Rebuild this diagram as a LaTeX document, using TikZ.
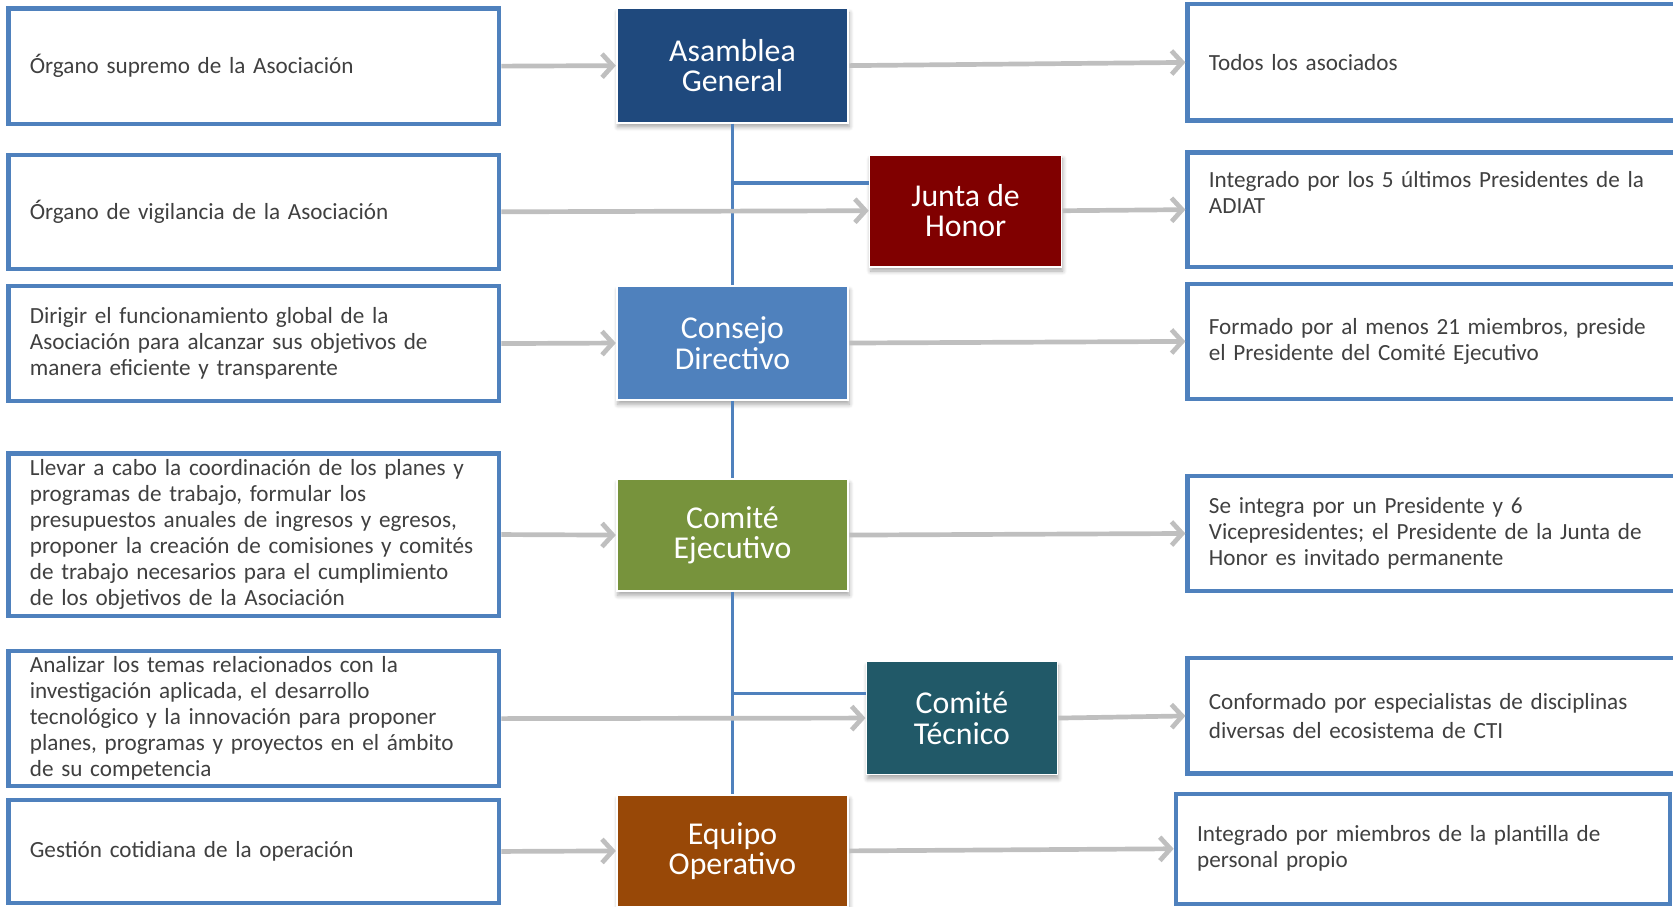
\documentclass[tikz,border=0pt]{standalone}
\usepackage{fontspec}
\setmainfont{Carlito}
\usepackage{tikz}
\usetikzlibrary{arrows.meta}
\usetikzlibrary{shadows.blur}
\usetikzlibrary{calc}
\definecolor{frameColor}{HTML}{4F81BD}
\definecolor{arrowColor}{HTML}{BFBFBF}
\definecolor{textColor}{HTML}{404040}
\definecolor{asambleaColor}{HTML}{1F497D}
\definecolor{juntaColor}{HTML}{800000}
\definecolor{consejoColor}{HTML}{4F81BD}
\definecolor{comiteColor}{HTML}{77933C}
\definecolor{tecnicoColor}{HTML}{215968}
\definecolor{equipoColor}{HTML}{984807}
\tikzset{
	descBox/.style={draw=frameColor, line width=2pt, fill=white, text=textColor, align=left, inner xsep=10pt, inner ysep=0pt, font=\fontsize{10.85}{12.15}\selectfont},
	leftBox/.style={descBox, minimum width=230pt, text width=210pt},
	rightBox/.style={descBox, minimum width=243.5pt, text width=223.5pt},
	organBox/.style={draw=white, line width=0.8pt, text=white, align=center, minimum width=108.5pt, minimum height=53.5pt, font=\fontsize{14.9}{14.3}\selectfont, blur shadow={shadow xshift=0.5pt, shadow yshift=-2pt, shadow blur steps=6, shadow blur radius=2pt, shadow opacity=35}},
	flowArrow/.style={draw=arrowColor, line width=2.2pt, -{Straight Barb[length=5pt,width=11pt]}},
	treeLine/.style={draw=frameColor, line width=1.5pt}
}

\begin{document}
\begin{tikzpicture}[x=0.5pt, y=-0.5pt]
\useasboundingbox (0,0) rectangle (1568,850);
\clip (0,0) rectangle (1568,850);
% descripciones (izquierda)
\node[leftBox, minimum height=54pt] (l1) at (238,62) {Órgano supremo de la Asociación};
\node[leftBox, minimum height=53.5pt] (l2) at (238,198.5) {Órgano de vigilancia de la Asociación};
\node[leftBox, minimum height=54pt] (l3) at (238,322) {Dirigir el funcionamiento global de la\\Asociación para alcanzar sus objetivos de\\manera eficiente y transparente};
\node[leftBox, minimum height=76pt] (l4) at (238,501) {Llevar a cabo la coordinación de los planes y\\programas de trabajo, formular los\\presupuestos anuales de ingresos y egresos,\\proponer la creación de comisiones y comités\\de trabajo necesarios para el cumplimiento\\de los objetivos de la Asociación};
\node[leftBox, minimum height=63.5pt] (l5) at (238,673.5) {Analizar los temas relacionados con la\\investigación aplicada, el desarrollo\\tecnológico y la innovación para proponer\\planes, programas y proyectos en el ámbito\\de su competencia};
\node[leftBox, minimum height=48pt] (l6) at (238,798) {Gestión cotidiana de la operación};
% organos
\node[organBox, fill=asambleaColor] (asamblea) at (686.5,61.5) {Asamblea\\General};
\node[organBox, fill=consejoColor] (consejo) at (686.5,321.5) {Consejo\\Directivo};
\node[organBox, fill=comiteColor, minimum height=52.5pt] (comite) at (686.5,501.5) {Comité\\Ejecutivo};
\node[organBox, fill=equipoColor, minimum height=52.5pt] (equipo) at (686.5,797.5) {Equipo\\Operativo};
\node[organBox, fill=juntaColor, minimum width=90pt, minimum height=52.5pt] (junta) at (905,197.5) {Junta de\\Honor};
\node[organBox, fill=tecnicoColor, minimum width=89.5pt, minimum height=53pt] (tecnico) at (901.5,673) {Comité\\Técnico};
% integracion (derecha)
\node[rightBox, minimum height=54.5pt] (r1) at (1356.5,58.5) {Todos los asociados};
\node[rightBox, minimum height=53.5pt] (r2) at (1356.5,196.5) {Integrado por los 5 últimos Presidentes de la\\ADIAT\\\strut};
\node[rightBox, minimum height=54pt] (r3) at (1356.5,320) {Formado por al menos 21 miembros, preside\\el Presidente del Comité Ejecutivo};
\node[rightBox, minimum height=54pt] (r4) at (1356.5,500) {Se integra por un Presidente y 6\\Vicepresidentes; el Presidente de la Junta de\\Honor es invitado permanente};
\node[rightBox, minimum height=54pt] (r5) at (1356.5,671) {Conformado por especialistas de disciplinas\\[1.5pt]diversas del ecosistema de CTI};
\node[descBox, minimum width=231.5pt, text width=211.5pt, minimum height=51.5pt] (r6) at (1333.5,795.5) {Integrado por miembros de la plantilla de\\personal propio};
%
\draw[treeLine] (asamblea.south) -- (consejo.north);
\draw[treeLine] (consejo.south) -- (comite.north);
\draw[treeLine] (comite.south) -- (equipo.north);
\draw[treeLine] (asamblea.south |- {$(junta.north west)!0.257!(junta.south west)$}) -- ($(junta.north west)!0.257!(junta.south west)$);
\draw[treeLine] (comite.south |- {$(tecnico.north west)!0.283!(tecnico.south west)$}) -- ($(tecnico.north west)!0.283!(tecnico.south west)$);
%
\foreach \a/\b in {l1/asamblea, l2/junta, l3/consejo, l4/comite, l5/tecnico, l6/equipo, asamblea/r1, junta/r2, consejo/r3, comite/r4, tecnico/r5, equipo/r6} {
	\draw[flowArrow] (\a.east) -- (\b.west);
}
\end{tikzpicture}
\end{document}
